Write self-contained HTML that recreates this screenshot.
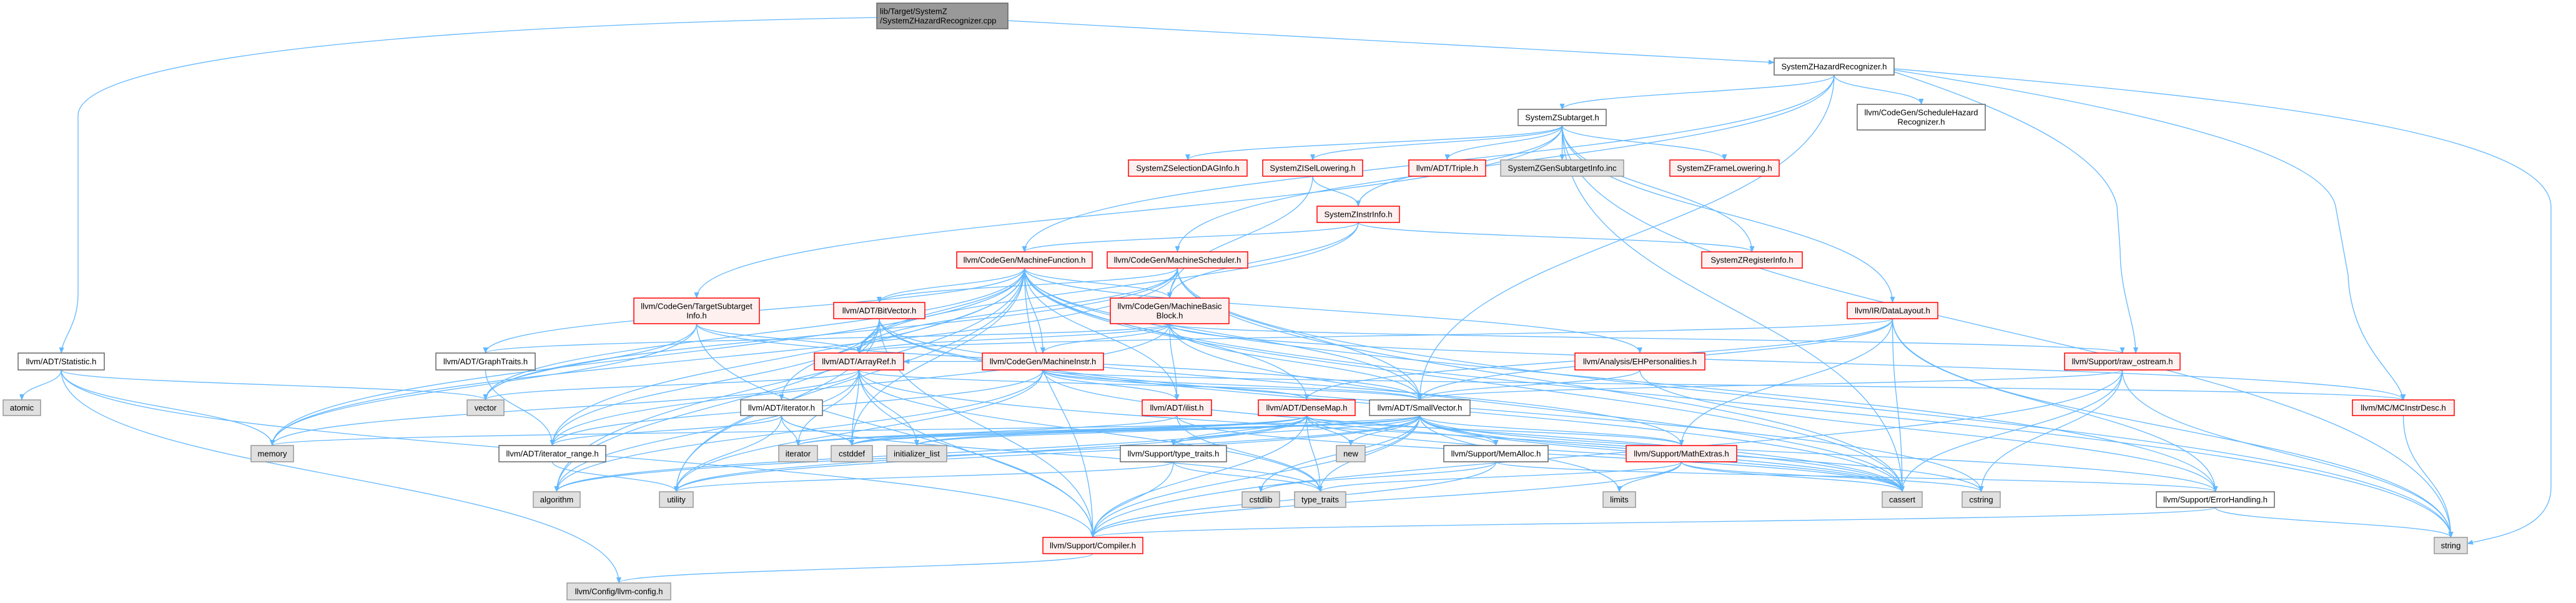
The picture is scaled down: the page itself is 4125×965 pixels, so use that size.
<!DOCTYPE html>
<html><head><meta charset="utf-8"><style>
html,body{margin:0;padding:0;background:#fff;}
svg{display:block;}
text{font-family:"Liberation Sans",Arial,sans-serif;font-size:13px;fill:#000;}
</style></head><body>
<svg id="g" width="4125" height="965" viewBox="0 0 4125 965" xmlns="http://www.w3.org/2000/svg">
<defs><marker id="a" markerWidth="10" markerHeight="8" refX="9" refY="4" orient="auto" markerUnits="userSpaceOnUse"><path d="M0,0 L10,4 L0,8 z" fill="#63b8ff"/></marker></defs>
<g id="edges" fill="none" stroke="#63b8ff" stroke-width="1.3"></g>
<g id="nodes"></g>
</svg>
<script>
var N={
cpp:[1404,5,1614,46,["lib/Target/SystemZ","/SystemZHazardRecognizer.cpp"],"c"],
hz:[2841,93,3033,120,["SystemZHazardRecognizer.h"],"w"],
st:[2431,175,2572,201,["SystemZSubtarget.h"],"w"],
shr:[2974,167,3179,208,["llvm/CodeGen/ScheduleHazard","Recognizer.h"],"w"],
sdag:[1807,256,1997,282,["SystemZSelectionDAGInfo.h"],"r"],
isel:[2022,256,2182,282,["SystemZISelLowering.h"],"r"],
tri:[2256,256,2379,282,["llvm/ADT/Triple.h"],"r"],
gen:[2403,256,2600,282,["SystemZGenSubtargetInfo.inc"],"g"],
fl:[2674,256,2849,282,["SystemZFrameLowering.h"],"r"],
ii:[2109,330,2241,356,["SystemZInstrInfo.h"],"r"],
ri:[2725,403,2886,429,["SystemZRegisterInfo.h"],"r"],
mf:[1532,403,1749,429,["llvm/CodeGen/MachineFunction.h"],"r"],
ms:[1773,403,1998,429,["llvm/CodeGen/MachineScheduler.h"],"r"],
tsi:[1015,477,1216,518,["llvm/CodeGen/TargetSubtarget","Info.h"],"r"],
bv:[1335,484,1481,510,["llvm/ADT/BitVector.h"],"r"],
mbb:[1778,477,1968,518,["llvm/CodeGen/MachineBasic","Block.h"],"r"],
dl:[2958,484,3103,510,["llvm/IR/DataLayout.h"],"r"],
stat:[29,565,167,592,["llvm/ADT/Statistic.h"],"w"],
gt:[698,565,857,592,["llvm/ADT/GraphTraits.h"],"w"],
ar:[1304,565,1447,592,["llvm/ADT/ArrayRef.h"],"r"],
mi:[1573,565,1767,592,["llvm/CodeGen/MachineInstr.h"],"r"],
eh:[2522,565,2730,592,["llvm/Analysis/EHPersonalities.h"],"r"],
ro:[3306,565,3491,592,["llvm/Support/raw_ostream.h"],"r"],
atomic:[5,640,65,665,["atomic"],"g"],
vec:[748,640,807,665,["vector"],"g"],
ith:[1186,640,1317,665,["llvm/ADT/iterator.h"],"w"],
il:[1829,640,1940,665,["llvm/ADT/ilist.h"],"r"],
dm:[2015,640,2170,665,["llvm/ADT/DenseMap.h"],"r"],
sv:[2193,640,2354,665,["llvm/ADT/SmallVector.h"],"w"],
mcid:[3767,640,3930,665,["llvm/MC/MCInstrDesc.h"],"r"],
mem:[402,713,470,739,["memory"],"g"],
itr:[799,713,970,739,["llvm/ADT/iterator_range.h"],"w"],
iter:[1247,713,1309,739,["iterator"],"g"],
cstddef:[1331,713,1397,739,["cstddef"],"g"],
init:[1420,713,1516,739,["initializer_list"],"g"],
tth:[1794,713,1964,739,["llvm/Support/type_traits.h"],"w"],
nw:[2140,713,2186,739,["new"],"g"],
ma:[2312,713,2479,739,["llvm/Support/MemAlloc.h"],"w"],
mx:[2604,713,2781,739,["llvm/Support/MathExtras.h"],"r"],
alg:[854,787,929,812,["algorithm"],"g"],
ut:[1056,787,1110,812,["utility"],"g"],
cstdlib:[1989,787,2049,812,["cstdlib"],"g"],
tt:[2073,787,2155,812,["type_traits"],"g"],
lim:[2567,787,2619,812,["limits"],"g"],
cas:[3014,787,3078,812,["cassert"],"g"],
cstr:[3142,787,3203,812,["cstring"],"g"],
eh2:[3453,787,3642,812,["llvm/Support/ErrorHandling.h"],"w"],
comp:[1670,860,1830,886,["llvm/Support/Compiler.h"],"r"],
str:[3898,860,3951,886,["string"],"g"],
cfg:[908,933,1074,960,["llvm/Config/llvm-config.h"],"g"]
};
var E={
hz:"st shr mf ms sv",
st:"sdag isel tri gen fl ii ri dl tsi str cas",
isel:"ii mbb",
ii:"mf ri mbb ar",
mf:"bv mbb mi ar gt itr vec mem alg ut cas cstddef comp eh2 sv dm il eh ith str",
ms:"mbb ar sv vec mem cas str bv",
tsi:"ar vec mem sv comp",
bv:"ar itr alg ut cas mx comp cstr",
mbb:"mi il ar gt itr sv cas mcid ro",
dl:"ar sv mx eh2 cas str dm",
stat:"atomic mem vec comp cfg",
gt:"itr",
ar:"vec mem sv alg cstddef init iter cas comp tt",
mi:"ar il dm itr alg ut cas mcid sv",
eh:"sv eh2",
ro:"sv cas cstr str comp",
ith:"itr iter cstddef ut tt",
il:"cas cstddef tt",
dm:"init tth nw ut cstddef tt mx comp cas alg iter ma",
sv:"init tth nw ma mx lim alg ut cstdlib tt cas cstr eh2 iter cstddef mem comp",
mcid:"str",
tth:"tt comp ut",
ma:"comp eh2 cstdlib",
mx:"comp lim tt cas cstr",
eh2:"comp str",
comp:"cfg",
itr:"ut"
};
var C=[
"M1404,28 C700,40 125,90 125,185 L125,470 C125,520 100,540 98,565",
"M1614,33 L2841,100",
"M3033,110 C3500,150 4080,200 4085,330 L4085,780 C4085,850 3990,860 3951,870",
"M3033,112 C3400,170 3720,240 3740,330 L3760,440 C3765,560 3845,600 3848,640",
"M3033,115 C3200,170 3370,240 3390,330 L3395,400 C3395,470 3420,520 3420,565"
];
var ns="http://www.w3.org/2000/svg",eg=document.getElementById("edges"),ng=document.getElementById("nodes");
function addP(d){var p=document.createElementNS(ns,"path");p.setAttribute("d",d);p.setAttribute("marker-end","url(#a)");eg.appendChild(p);}
C.forEach(addP);
for(var s in E){E[s].split(" ").forEach(function(t){
 var a=N[s],b=N[t];if(!b)return;
 var sx=(a[0]+a[2])/2,sy=a[3],tx=(b[0]+b[2])/2,ty=b[1];
 var d;
 if(ty<=sy){var sy2=(a[1]+a[3])/2,ty2=(b[1]+b[3])/2;
  if(tx>sx){d="M"+a[2]+","+sy2+" C"+(a[2]+80)+","+sy2+" "+(b[0]-80)+","+ty2+" "+b[0]+","+ty2;}
  else{d="M"+a[0]+","+sy2+" C"+(a[0]-80)+","+sy2+" "+(b[2]+80)+","+ty2+" "+b[2]+","+ty2;}}
 else{var dy=ty-sy;d="M"+sx+","+sy+" C"+sx+","+(sy+dy*0.5)+" "+tx+","+(ty-dy*0.5)+" "+tx+","+ty;}
 addP(d);});}
for(var k in N){var n=N[k],r=document.createElementNS(ns,"rect");
 r.setAttribute("x",n[0]);r.setAttribute("y",n[1]);r.setAttribute("width",n[2]-n[0]);r.setAttribute("height",n[3]-n[1]);
 var f={r:"#fff0f0",w:"#ffffff",g:"#e0e0e0",c:"#999999"}[n[5]],st={r:"#ff0000",w:"#666666",g:"#999999",c:"#666666"}[n[5]];
 r.setAttribute("fill",f);r.setAttribute("stroke",st);r.setAttribute("stroke-width","1.5");ng.appendChild(r);
 var L=n[4],cy=(n[1]+n[3])/2;
 L.forEach(function(l,i){var t=document.createElementNS(ns,"text");
  var y=cy+4.5+(i-(L.length-1)/2)*15;
  if(n[5]=="c"){t.setAttribute("x",n[0]+5);}else{t.setAttribute("x",(n[0]+n[2])/2);t.setAttribute("text-anchor","middle");}
  t.setAttribute("y",y);t.textContent=l;ng.appendChild(t);});}
</script>
</body></html>
